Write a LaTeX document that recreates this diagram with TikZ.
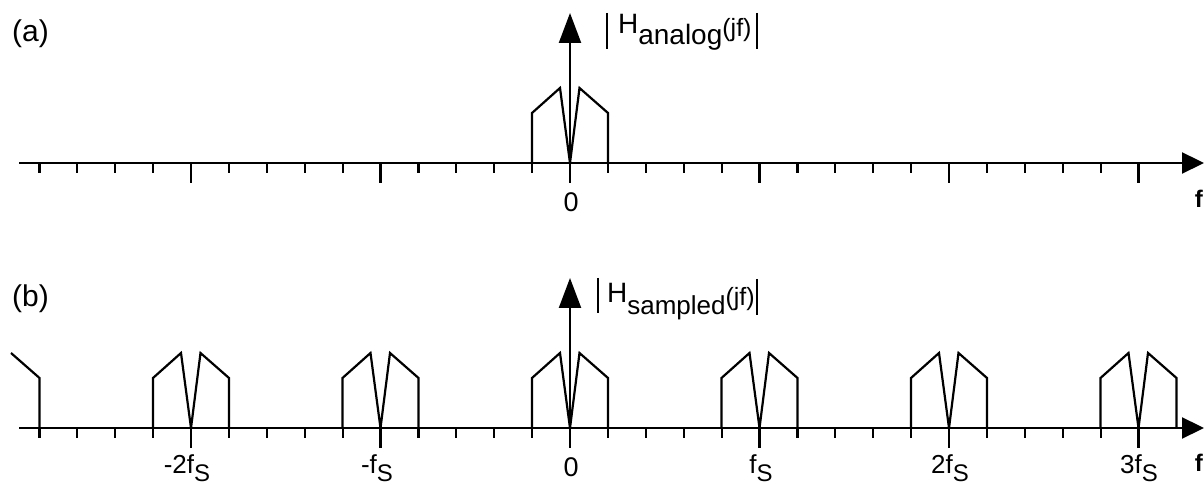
\documentclass[tikz,border=0pt]{standalone}
\usepackage{fontspec}
\setmainfont{Liberation Sans}
\usetikzlibrary{arrows.meta}
\newcommand\myfs[1]{\fontsize{#1}{#1}\selectfont}
\begin{document}
\begin{tikzpicture}[x=0.5pt,y=-0.5pt,line width=1.1pt,line join=miter,
  axisline/.style={-{Triangle[width=10.5pt,length=11pt]}},
  vaxis/.style={-{Triangle[width=11pt,length=15pt]}},
  txt/.style={inner sep=0pt,anchor=base},
  txtw/.style={inner sep=0pt,anchor=base west}]
\useasboundingbox (0,0) rectangle (1204,485);
% ---------------- (a) ----------------
\node[txtw] (la) at (11,42) {\myfs{15}(a)};
\coordinate (ax0) at (19,163);
\coordinate (ax1) at (1204,163);
\draw[axisline] (ax0) -- (ax1);
\foreach \k in {-14,...,15}{
  \pgfmathsetmacro\xx{570+\k*37.9}
  \pgfmathtruncatemacro\m{mod(abs(\k),5)}
  \ifnum\m=0
    \ifnum\k=0\else \draw (\xx,163) -- (\xx,183);\fi
  \else
    \draw (\xx,163) -- (\xx,173);
  \fi
}
\draw (570-38,163) -- (570-38,113) -- (570-10,88) -- (570,163) -- (570+9.5,88) -- (570+38,113) -- (570+38,163);
\coordinate (va0) at (570,183);
\coordinate (va1) at (570,13);
\draw[vaxis] (va0) -- (va1);
\draw (607,13) -- (607,49);
\draw (757,13) -- (757,49);
\node[txtw] (Ha) at (617,34) {\myfs{14}H\raisebox{-5.5pt}{\myfs{14}analog}\raisebox{-1.5pt}{\myfs{12.5}(jf)}};
\node[txt] (za) at (571,212) {\myfs{13.5}0};
\node[inner sep=0pt,anchor=base east] (fa) at (1204,208) {\myfs{12}\bfseries f};
% ---------------- (b) ----------------
\node[txtw] (lb) at (11,307) {\myfs{15}(b)};
\coordinate (bx0) at (19,428);
\coordinate (bx1) at (1204,428);
\draw[axisline] (bx0) -- (bx1);
\foreach \k in {-14,...,15}{
  \pgfmathsetmacro\xx{570+\k*37.9}
  \pgfmathtruncatemacro\m{mod(abs(\k),5)}
  \ifnum\m=0
    \ifnum\k=0\else \draw (\xx,428) -- (\xx,448);\fi
  \else
    \draw (\xx,428) -- (\xx,438);
  \fi
}
\foreach \n in {-2,...,3}{
  \pgfmathsetmacro\c{570+\n*189.5}
  \draw (\c-38,428) -- (\c-38,378) -- (\c-10,353) -- (\c,428) -- (\c+9.5,353) -- (\c+38,378) -- (\c+38,428);
}
\pgfmathsetmacro\cc{570-3*189.5}
\draw (\cc+9.5,353) -- (\cc+38,378) -- (\cc+38,428);
\coordinate (vb0) at (570,448);
\coordinate (vb1) at (570,278);
\draw[vaxis] (vb0) -- (vb1);
\draw (598,278) -- (598,313);
\draw (757,279) -- (757,315);
\node[txtw] (Hb) at (606,303) {\myfs{14}H\raisebox{-6pt}{\myfs{13}sampled}\raisebox{-1.5pt}{\myfs{12.5}(jf)}};
\node[txt] (m2) at (187,474) {\myfs{13}-2f\raisebox{-4pt}{\myfs{12}S}};
\node[txt] (m1) at (377,474) {\myfs{13}-f\raisebox{-4pt}{\myfs{12}S}};
\node[txt] (zb) at (571,477) {\myfs{13.5}0};
\node[txt] (p1) at (761,474) {\myfs{13}f\raisebox{-4pt}{\myfs{12}S}};
\node[txt] (p2) at (950,474) {\myfs{13}2f\raisebox{-4pt}{\myfs{12}S}};
\node[txt] (p3) at (1139,474) {\myfs{13}3f\raisebox{-4pt}{\myfs{12}S}};
\node[inner sep=0pt,anchor=base east] (fb) at (1204,472) {\myfs{12}\bfseries f};
\end{tikzpicture}
\end{document}
